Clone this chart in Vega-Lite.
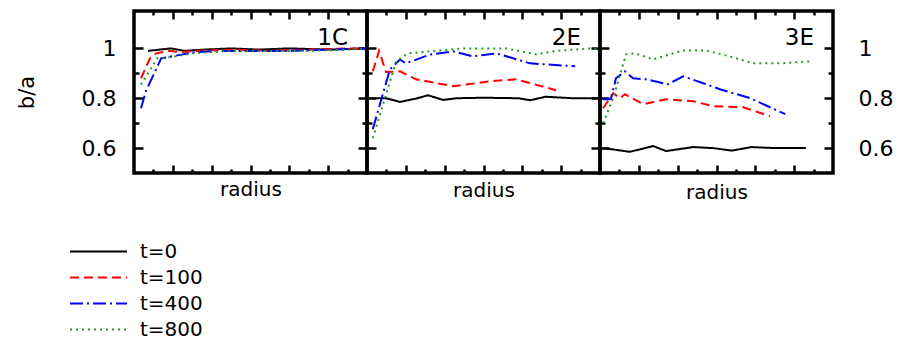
{
  "$schema": "https://vega.github.io/schema/vega-lite/v6.json",
  "background": "white",
  "padding": {"left": 14, "top": 8, "right": 2, "bottom": 2},
  "bounds": "flush",
  "config": {
    "font": "DejaVu Sans",
    "view": {"stroke": "black", "strokeWidth": 3.5},
    "concat": {"spacing": 0},
    "axis": {"domain": false, "grid": false, "tickColor": "black", "tickWidth": 2.5, "labelColor": "black", "labelFont": "DejaVu Sans", "labelFontSize": 22, "titleFont": "DejaVu Sans", "titleFontSize": 20, "titleFontWeight": "normal", "titleColor": "black"},
    "title": {"font": "DejaVu Sans", "fontSize": 23, "fontWeight": "normal", "color": "black"},
    "legend": {"title": null, "orient": "none", "legendX": -48, "legendY": 228, "symbolType": "M-2.5,0H2.5", "symbolSize": 520, "symbolStrokeWidth": 2, "labelFontSize": 20, "labelFont": "DejaVu Sans", "labelColor": "black", "labelOffset": 29, "rowPadding": 3}
  },
  "datasets": {
    "d": [
      {"p": "1C", "t": "t=0", "r": 0.36, "v": 0.99},
      {"p": "1C", "t": "t=0", "r": 0.95, "v": 1.0},
      {"p": "1C", "t": "t=0", "r": 1.3, "v": 0.99},
      {"p": "1C", "t": "t=0", "r": 1.8, "v": 0.995},
      {"p": "1C", "t": "t=0", "r": 2.5, "v": 1.0},
      {"p": "1C", "t": "t=0", "r": 3.2, "v": 0.995},
      {"p": "1C", "t": "t=0", "r": 4.0, "v": 1.0},
      {"p": "1C", "t": "t=0", "r": 5.0, "v": 0.995},
      {"p": "1C", "t": "t=0", "r": 6.0, "v": 1.0},
      {"p": "1C", "t": "t=100", "r": 0.18, "v": 0.88},
      {"p": "1C", "t": "t=100", "r": 0.41, "v": 0.96},
      {"p": "1C", "t": "t=100", "r": 0.57, "v": 0.98},
      {"p": "1C", "t": "t=100", "r": 0.9, "v": 0.99},
      {"p": "1C", "t": "t=100", "r": 1.2, "v": 0.985},
      {"p": "1C", "t": "t=100", "r": 1.6, "v": 0.99},
      {"p": "1C", "t": "t=100", "r": 2.5, "v": 0.995},
      {"p": "1C", "t": "t=100", "r": 3.5, "v": 0.99},
      {"p": "1C", "t": "t=100", "r": 4.5, "v": 0.995},
      {"p": "1C", "t": "t=100", "r": 5.5, "v": 1.0},
      {"p": "1C", "t": "t=100", "r": 6.0, "v": 1.0},
      {"p": "1C", "t": "t=400", "r": 0.18, "v": 0.76},
      {"p": "1C", "t": "t=400", "r": 0.31, "v": 0.83},
      {"p": "1C", "t": "t=400", "r": 0.7, "v": 0.96},
      {"p": "1C", "t": "t=400", "r": 1.57, "v": 0.985},
      {"p": "1C", "t": "t=400", "r": 2.2, "v": 0.99},
      {"p": "1C", "t": "t=400", "r": 3.0, "v": 0.99},
      {"p": "1C", "t": "t=400", "r": 4.0, "v": 0.99},
      {"p": "1C", "t": "t=400", "r": 5.0, "v": 0.995},
      {"p": "1C", "t": "t=400", "r": 6.0, "v": 1.0},
      {"p": "1C", "t": "t=800", "r": 0.18, "v": 0.855},
      {"p": "1C", "t": "t=800", "r": 0.6, "v": 0.96},
      {"p": "1C", "t": "t=800", "r": 0.95, "v": 0.965},
      {"p": "1C", "t": "t=800", "r": 1.5, "v": 0.98},
      {"p": "1C", "t": "t=800", "r": 2.5, "v": 0.99},
      {"p": "1C", "t": "t=800", "r": 3.5, "v": 0.99},
      {"p": "1C", "t": "t=800", "r": 4.5, "v": 0.99},
      {"p": "1C", "t": "t=800", "r": 5.5, "v": 0.995},
      {"p": "1C", "t": "t=800", "r": 6.0, "v": 1.0},

      {"p": "2E", "t": "t=0", "r": 0.08, "v": 0.8},
      {"p": "2E", "t": "t=0", "r": 0.5, "v": 0.8},
      {"p": "2E", "t": "t=0", "r": 0.85, "v": 0.785},
      {"p": "2E", "t": "t=0", "r": 1.3, "v": 0.8},
      {"p": "2E", "t": "t=0", "r": 1.57, "v": 0.812},
      {"p": "2E", "t": "t=0", "r": 1.96, "v": 0.793},
      {"p": "2E", "t": "t=0", "r": 2.3, "v": 0.8},
      {"p": "2E", "t": "t=0", "r": 3.0, "v": 0.802},
      {"p": "2E", "t": "t=0", "r": 3.9, "v": 0.8},
      {"p": "2E", "t": "t=0", "r": 4.2, "v": 0.792},
      {"p": "2E", "t": "t=0", "r": 4.6, "v": 0.806},
      {"p": "2E", "t": "t=0", "r": 5.3, "v": 0.8},
      {"p": "2E", "t": "t=0", "r": 6.0, "v": 0.8},
      {"p": "2E", "t": "t=100", "r": 0.15, "v": 0.908},
      {"p": "2E", "t": "t=100", "r": 0.31, "v": 0.99},
      {"p": "2E", "t": "t=100", "r": 0.49, "v": 0.905},
      {"p": "2E", "t": "t=100", "r": 0.85, "v": 0.908},
      {"p": "2E", "t": "t=100", "r": 1.26, "v": 0.876},
      {"p": "2E", "t": "t=100", "r": 2.22, "v": 0.848},
      {"p": "2E", "t": "t=100", "r": 3.17, "v": 0.868},
      {"p": "2E", "t": "t=100", "r": 3.84, "v": 0.876},
      {"p": "2E", "t": "t=100", "r": 4.87, "v": 0.832},
      {"p": "2E", "t": "t=400", "r": 0.15, "v": 0.676},
      {"p": "2E", "t": "t=400", "r": 0.59, "v": 0.916},
      {"p": "2E", "t": "t=400", "r": 0.85, "v": 0.955},
      {"p": "2E", "t": "t=400", "r": 1.0, "v": 0.94},
      {"p": "2E", "t": "t=400", "r": 1.62, "v": 0.975},
      {"p": "2E", "t": "t=400", "r": 2.22, "v": 0.988},
      {"p": "2E", "t": "t=400", "r": 2.73, "v": 0.968},
      {"p": "2E", "t": "t=400", "r": 3.33, "v": 0.98},
      {"p": "2E", "t": "t=400", "r": 4.2, "v": 0.94},
      {"p": "2E", "t": "t=400", "r": 5.36, "v": 0.928},
      {"p": "2E", "t": "t=800", "r": 0.15, "v": 0.64},
      {"p": "2E", "t": "t=800", "r": 0.75, "v": 0.948},
      {"p": "2E", "t": "t=800", "r": 1.06, "v": 0.98},
      {"p": "2E", "t": "t=800", "r": 1.62, "v": 0.988},
      {"p": "2E", "t": "t=800", "r": 2.47, "v": 1.0},
      {"p": "2E", "t": "t=800", "r": 3.58, "v": 1.0},
      {"p": "2E", "t": "t=800", "r": 4.36, "v": 0.976},
      {"p": "2E", "t": "t=800", "r": 4.87, "v": 0.99},
      {"p": "2E", "t": "t=800", "r": 5.75, "v": 1.0},
      {"p": "2E", "t": "t=800", "r": 5.95, "v": 1.0},

      {"p": "3E", "t": "t=0", "r": 0.08, "v": 0.6},
      {"p": "3E", "t": "t=0", "r": 0.77, "v": 0.585},
      {"p": "3E", "t": "t=0", "r": 1.37, "v": 0.608},
      {"p": "3E", "t": "t=0", "r": 1.7, "v": 0.588},
      {"p": "3E", "t": "t=0", "r": 2.4, "v": 0.604},
      {"p": "3E", "t": "t=0", "r": 2.9, "v": 0.6},
      {"p": "3E", "t": "t=0", "r": 3.4, "v": 0.59},
      {"p": "3E", "t": "t=0", "r": 3.9, "v": 0.604},
      {"p": "3E", "t": "t=0", "r": 4.5, "v": 0.6},
      {"p": "3E", "t": "t=0", "r": 5.3, "v": 0.6},
      {"p": "3E", "t": "t=100", "r": 0.08, "v": 0.76},
      {"p": "3E", "t": "t=100", "r": 0.34, "v": 0.82},
      {"p": "3E", "t": "t=100", "r": 0.52, "v": 0.8},
      {"p": "3E", "t": "t=100", "r": 0.64, "v": 0.816},
      {"p": "3E", "t": "t=100", "r": 1.11, "v": 0.776},
      {"p": "3E", "t": "t=100", "r": 1.7, "v": 0.796},
      {"p": "3E", "t": "t=100", "r": 2.4, "v": 0.788},
      {"p": "3E", "t": "t=100", "r": 2.91, "v": 0.768},
      {"p": "3E", "t": "t=100", "r": 3.69, "v": 0.764},
      {"p": "3E", "t": "t=100", "r": 4.38, "v": 0.728},
      {"p": "3E", "t": "t=400", "r": 0.08, "v": 0.796},
      {"p": "3E", "t": "t=400", "r": 0.28, "v": 0.796},
      {"p": "3E", "t": "t=400", "r": 0.41, "v": 0.88},
      {"p": "3E", "t": "t=400", "r": 0.64, "v": 0.908},
      {"p": "3E", "t": "t=400", "r": 0.85, "v": 0.88},
      {"p": "3E", "t": "t=400", "r": 1.18, "v": 0.876},
      {"p": "3E", "t": "t=400", "r": 1.75, "v": 0.856},
      {"p": "3E", "t": "t=400", "r": 2.14, "v": 0.888},
      {"p": "3E", "t": "t=400", "r": 2.66, "v": 0.86},
      {"p": "3E", "t": "t=400", "r": 3.09, "v": 0.836},
      {"p": "3E", "t": "t=400", "r": 3.87, "v": 0.8},
      {"p": "3E", "t": "t=400", "r": 4.77, "v": 0.736},
      {"p": "3E", "t": "t=800", "r": 0.08, "v": 0.7},
      {"p": "3E", "t": "t=800", "r": 0.34, "v": 0.8},
      {"p": "3E", "t": "t=800", "r": 0.67, "v": 0.976},
      {"p": "3E", "t": "t=800", "r": 0.9, "v": 0.98},
      {"p": "3E", "t": "t=800", "r": 1.37, "v": 0.956},
      {"p": "3E", "t": "t=800", "r": 2.14, "v": 0.992},
      {"p": "3E", "t": "t=800", "r": 2.73, "v": 0.992},
      {"p": "3E", "t": "t=800", "r": 3.43, "v": 0.964},
      {"p": "3E", "t": "t=800", "r": 3.94, "v": 0.94},
      {"p": "3E", "t": "t=800", "r": 4.64, "v": 0.94},
      {"p": "3E", "t": "t=800", "r": 5.41, "v": 0.948}
    ]
  },
  "hconcat": [
    {
      "width": 233, "height": 162,
      "title": {"text": "1C", "anchor": "end", "frame": "group", "offset": -58, "dx": -19, "baseline": "alphabetic"},
      "data": {"name": "d"},
      "transform": [{"filter": "datum.p === '1C'"}],
      "layer": [
        {
          "mark": {"type": "line", "strokeWidth": 2},
          "encoding": {
            "x": {"field": "r", "type": "quantitative", "scale": {"domain": [0, 6], "nice": false, "zero": false},
              "axis": {"orient": "bottom", "values": [0.5, 1, 1.5, 2, 2.5, 3, 3.5, 4, 4.5, 5, 5.5], "labels": false, "tickSize": {"condition": {"test": "datum.value % 1 === 0", "value": -8}, "value": -4}, "title": "radius", "titlePadding": 5}},
            "y": {"field": "v", "type": "quantitative", "scale": {"domain": [0.5, 1.15], "nice": false, "zero": false},
              "axis": {"orient": "left", "values": [0.6, 0.7, 0.8, 0.9, 1], "tickSize": {"condition": {"test": "round(datum.value*10) % 2 === 0", "value": -9}, "value": -5}, "labelExpr": "round(datum.value*10) % 2 === 0 ? format(datum.value, '~g') : ''", "labelPadding": 27, "title": "b/a", "titleFontSize": 21, "titlePadding": 44}},
            "color": {"field": "t", "type": "nominal", "scale": {"domain": ["t=0", "t=100", "t=400", "t=800"], "range": ["#000000", "#ff0000", "#0000ff", "#229922"]}, "legend": {"title": null}},
            "strokeDash": {"field": "t", "type": "nominal", "scale": {"domain": ["t=0", "t=100", "t=400", "t=800"], "range": [[1, 0], [9, 5], [13, 4, 2, 4], [2, 4]]}, "legend": {"title": null}}
          }
        },
        {
          "mark": {"type": "line", "opacity": 0},
          "encoding": {
            "x": {"field": "r", "type": "quantitative", "scale": {"domain": [0, 6], "nice": false, "zero": false},
              "axis": {"orient": "top", "values": [0.5, 1, 1.5, 2, 2.5, 3, 3.5, 4, 4.5, 5, 5.5], "labels": false, "title": null, "tickSize": {"condition": {"test": "datum.value % 1 === 0", "value": -8}, "value": -4}}},
            "y": {"field": "v", "type": "quantitative", "scale": {"domain": [0.5, 1.15], "nice": false, "zero": false},
              "axis": {"orient": "right", "values": [0.6, 0.7, 0.8, 0.9, 1], "labels": false, "title": null, "tickSize": {"condition": {"test": "round(datum.value*10) % 2 === 0", "value": -9}, "value": -5}}}
          }
        }
      ],
      "resolve": {"axis": {"x": "independent", "y": "independent"}}
    },
    {
      "width": 233, "height": 162,
      "title": {"text": "2E", "anchor": "end", "frame": "group", "offset": -58, "dx": -19, "baseline": "alphabetic"},
      "data": {"name": "d"},
      "transform": [{"filter": "datum.p === '2E'"}],
      "layer": [
        {
          "mark": {"type": "line", "strokeWidth": 2},
          "encoding": {
            "x": {"field": "r", "type": "quantitative", "scale": {"domain": [0, 6], "nice": false, "zero": false},
              "axis": {"orient": "bottom", "values": [0.5, 1, 1.5, 2, 2.5, 3, 3.5, 4, 4.5, 5, 5.5], "labels": false, "tickSize": {"condition": {"test": "datum.value % 1 === 0", "value": -8}, "value": -4}, "title": "radius", "titlePadding": 6}},
            "y": {"field": "v", "type": "quantitative", "scale": {"domain": [0.5, 1.15], "nice": false, "zero": false},
              "axis": {"orient": "left", "values": [0.6, 0.7, 0.8, 0.9, 1], "labels": false, "title": null, "tickSize": {"condition": {"test": "round(datum.value*10) % 2 === 0", "value": -9}, "value": -5}}},
            "color": {"field": "t", "type": "nominal", "scale": {"domain": ["t=0", "t=100", "t=400", "t=800"], "range": ["#000000", "#ff0000", "#0000ff", "#229922"]}, "legend": {"title": null}},
            "strokeDash": {"field": "t", "type": "nominal", "scale": {"domain": ["t=0", "t=100", "t=400", "t=800"], "range": [[1, 0], [9, 5], [13, 4, 2, 4], [2, 4]]}, "legend": {"title": null}}
          }
        },
        {
          "mark": {"type": "line", "opacity": 0},
          "encoding": {
            "x": {"field": "r", "type": "quantitative", "scale": {"domain": [0, 6], "nice": false, "zero": false},
              "axis": {"orient": "top", "values": [0.5, 1, 1.5, 2, 2.5, 3, 3.5, 4, 4.5, 5, 5.5], "labels": false, "title": null, "tickSize": {"condition": {"test": "datum.value % 1 === 0", "value": -8}, "value": -4}}},
            "y": {"field": "v", "type": "quantitative", "scale": {"domain": [0.5, 1.15], "nice": false, "zero": false},
              "axis": {"orient": "right", "values": [0.6, 0.7, 0.8, 0.9, 1], "labels": false, "title": null, "tickSize": {"condition": {"test": "round(datum.value*10) % 2 === 0", "value": -9}, "value": -5}}}
          }
        }
      ],
      "resolve": {"axis": {"x": "independent", "y": "independent"}}
    },
    {
      "width": 233, "height": 162,
      "title": {"text": "3E", "anchor": "end", "frame": "group", "offset": -58, "dx": -19, "baseline": "alphabetic"},
      "data": {"name": "d"},
      "transform": [{"filter": "datum.p === '3E'"}],
      "layer": [
        {
          "mark": {"type": "line", "strokeWidth": 2},
          "encoding": {
            "x": {"field": "r", "type": "quantitative", "scale": {"domain": [0, 6], "nice": false, "zero": false},
              "axis": {"orient": "bottom", "values": [0.5, 1, 1.5, 2, 2.5, 3, 3.5, 4, 4.5, 5, 5.5], "labels": false, "tickSize": {"condition": {"test": "datum.value % 1 === 0", "value": -8}, "value": -4}, "title": "radius", "titlePadding": 8}},
            "y": {"field": "v", "type": "quantitative", "scale": {"domain": [0.5, 1.15], "nice": false, "zero": false},
              "axis": {"orient": "left", "values": [0.6, 0.7, 0.8, 0.9, 1], "labels": false, "title": null, "tickSize": {"condition": {"test": "round(datum.value*10) % 2 === 0", "value": -9}, "value": -5}}},
            "color": {"field": "t", "type": "nominal", "scale": {"domain": ["t=0", "t=100", "t=400", "t=800"], "range": ["#000000", "#ff0000", "#0000ff", "#229922"]}, "legend": {"title": null}},
            "strokeDash": {"field": "t", "type": "nominal", "scale": {"domain": ["t=0", "t=100", "t=400", "t=800"], "range": [[1, 0], [9, 5], [13, 4, 2, 4], [2, 4]]}, "legend": {"title": null}}
          }
        },
        {
          "mark": {"type": "line", "opacity": 0},
          "encoding": {
            "x": {"field": "r", "type": "quantitative", "scale": {"domain": [0, 6], "nice": false, "zero": false},
              "axis": {"orient": "top", "values": [0.5, 1, 1.5, 2, 2.5, 3, 3.5, 4, 4.5, 5, 5.5], "labels": false, "title": null, "tickSize": {"condition": {"test": "datum.value % 1 === 0", "value": -8}, "value": -4}}},
            "y": {"field": "v", "type": "quantitative", "scale": {"domain": [0.5, 1.15], "nice": false, "zero": false},
              "axis": {"orient": "right", "values": [0.6, 0.7, 0.8, 0.9, 1], "title": null, "tickSize": {"condition": {"test": "round(datum.value*10) % 2 === 0", "value": -9}, "value": -5}, "labelExpr": "round(datum.value*10) % 2 === 0 ? format(datum.value, '~g') : ''", "labelPadding": 34, "labelAlign": "left"}}
          }
        }
      ],
      "resolve": {"axis": {"x": "independent", "y": "independent"}}
    }
  ]
}
